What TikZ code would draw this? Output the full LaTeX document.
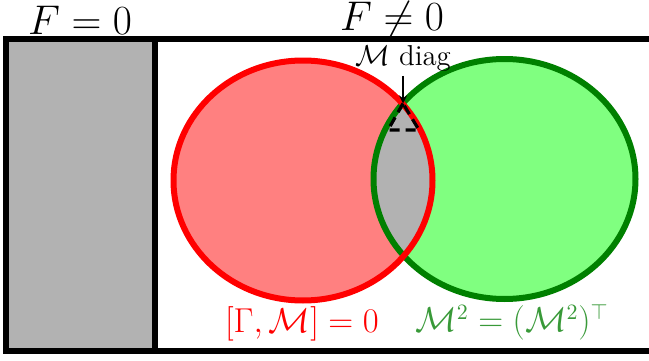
\documentclass[tikz,border=0pt]{standalone}
\usepackage{amsmath}
\usepackage{tikz}
\usetikzlibrary{positioning, arrows.meta}

\definecolor{setred}{rgb}{1,0,0}
\definecolor{setgreen}{rgb}{0,0.5,0}
\definecolor{labelgreen}{rgb}{0.22,0.6,0.22}

\begin{document}
\begin{tikzpicture}[x=0.5pt, y=0.5pt, >=stealth, line width=3pt]
    \useasboundingbox (0,0) rectangle (649,360);
    % F = 0 region
    \filldraw[fill=gray!60] (6,9) rectangle (155,321);
    \draw (155,321) -- (652,321);
    \draw (155,9) -- (652,9);
    % the two sets
    \fill[red!50] (303,179.5) ellipse [x radius=129.5, y radius=120];
    \fill[green!50] (504.5,181) ellipse [x radius=131, y radius=120];
    \begin{scope}
        \clip (303,179.5) ellipse [x radius=129.5, y radius=120];
        \fill[gray!60] (504.5,181) ellipse [x radius=131, y radius=120];
    \end{scope}
    \draw[setgreen] (504.5,181) ellipse [x radius=131, y radius=120];
    \draw[setred] (303,179.5) ellipse [x radius=129.5, y radius=120];
    % diagonal part
    \coordinate (apex) at (403,256.5);
    \coordinate (bl) at (388,230);
    \coordinate (br) at (419,230);
    \draw[dash pattern=on 5pt off 3pt, line width=1.6pt] (apex) -- (bl) -- (br) -- cycle;
    \node[font=\Large, inner sep=1pt] (diag) at (403,302) {$\mathcal{M}$ diag};
    \draw[->, line width=0.8pt] (diag.south) -- (apex);
    % labels
    \node[font=\huge] (zero) at (80,340) {$F=0$};
    \node[font=\huge] (nonzero) at (392,340) {$F\neq0$};
    \node[font=\fontsize{16.3}{20}\selectfont, text=setred] (comm) at (302,36) {$[\Gamma,\mathcal{M}]=0$};
    \node[font=\fontsize{16.3}{20}\selectfont, text=labelgreen] (sym) at (512,38) {$\mathcal{M}^2=(\mathcal{M}^2)^\top$};
\end{tikzpicture}
\end{document}
